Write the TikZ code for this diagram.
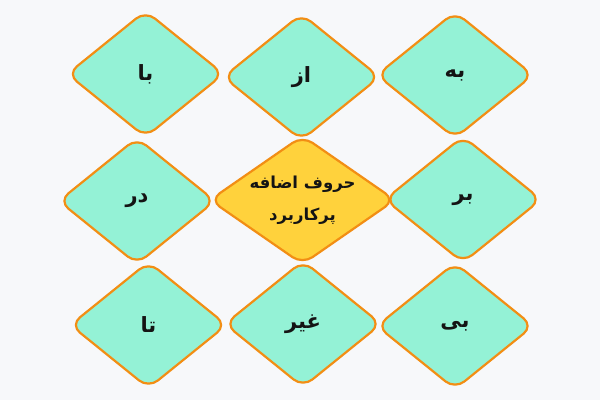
\documentclass[tikz,border=0pt]{standalone}
\usepackage{fontspec}
\newfontfamily\arabicfont[Script=Arabic]{DejaVu Sans}
\TeXXeTstate=1
\usepackage{tikz}
\usetikzlibrary{shapes.geometric}
\definecolor{hintergrund}{RGB}{247,248,250}
\definecolor{minze}{RGB}{148,242,214}
\definecolor{rand}{RGB}{242,142,20}
\definecolor{gelb}{RGB}{255,210,60}
\newcommand{\rtltext}[1]{{\arabicfont\beginR #1\endR}}

\begin{document}
\begin{tikzpicture}[x=1pt, y=1pt,
  raute/.style={diamond, draw=rand, line width=2.2pt, fill=minze,
    rounded corners=12pt, minimum width=157pt, minimum height=127pt,
    inner sep=0pt, font=\fontsize{21}{26}\selectfont\bfseries, text=black!92},
  mitte/.style={raute, fill=gelb, minimum width=186pt, minimum height=129pt,
    aspect=1.5, align=center, font=\fontsize{16.5}{32}\selectfont\bfseries}
]
% Hintergrund
\fill[hintergrund] (0,0) rectangle (600,400);

% obere Reihe
\node[raute] (ba) at (145.5,326) {\rtltext{با}};
\node[raute] (az) at (301.5,323) {\rtltext{از}};
\node[raute] (be) at (455,325) {\rtltext{به}};

% mittlere Reihe
\node[raute] (dar) at (137,199) {\rtltext{در}};
\node[raute] (bar) at (463,200.5) {\rtltext{بر}};

% untere Reihe
\node[raute] (ta) at (148.5,75) {\rtltext{تا}};
\node[raute] (gheyr) at (303,76) {\rtltext{غیر}};
\node[raute] (bi) at (455,74) {\rtltext{بی}};

% Mitte
\node[mitte] (huruf) at (302.5,200) {\rtltext{حروف اضافه}\\\rtltext{پرکاربرد}};
\end{tikzpicture}
\end{document}
